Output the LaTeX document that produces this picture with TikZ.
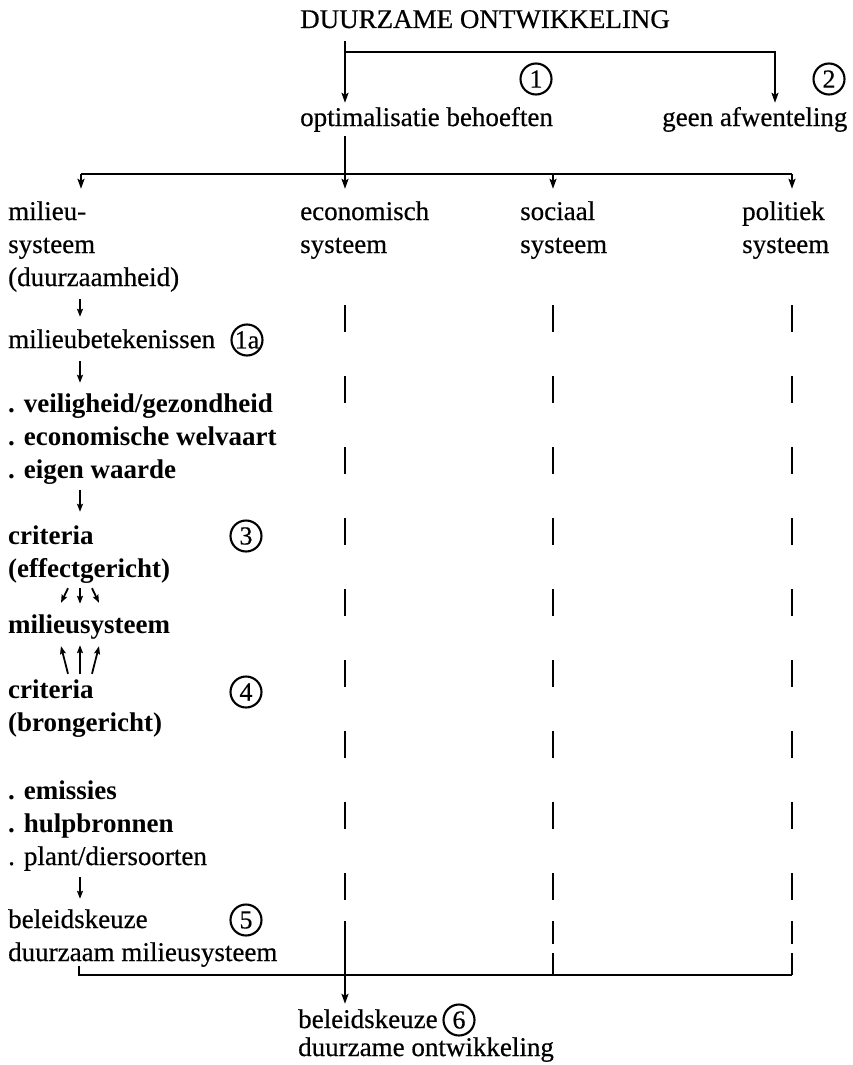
\documentclass[tikz,border=0pt]{standalone}
\usepackage{fontspec}
\setmainfont{Liberation Serif}
\newfontface\inkreg{Liberation Serif}[FakeBold=0.5]
\usetikzlibrary{arrows.meta,calc}
\begin{document}
\begin{tikzpicture}[x=1pt,y=-1pt,
  txt/.style={anchor=west,inner sep=0pt,font=\fontsize{27}{33}\inkreg,text height=19pt,text depth=7pt},
  btxt/.style={txt,font=\fontsize{27}{33}\selectfont\bfseries},
  num/.style={circle,draw,line width=2.1pt,inner sep=0pt,minimum size=31pt,font=\fontsize{26}{26}\inkreg},
  ln/.style={line width=2pt},
  arr/.style={ln,-{Stealth[length=10pt,width=7pt,inset=2pt]}},
  sarr/.style={line width=1.8pt,-{Stealth[length=8pt,width=6pt,inset=1.5pt]}},
  dsh/.style={line width=2.2pt,dash pattern=on 27pt off 44pt}]
\useasboundingbox (0,0) rectangle (852,1065);

% top
\node[txt] (title) at (300,22) {DUURZAME ONTWIKKELING};
\node[num] (n1) at (536,79) {1};
\node[num] (n2) at (829,79) {2};
\node[txt] (opt) at (300,120) {optimalisatie behoeften};
\node[txt] (geen) at (662,120) {geen afwenteling};

% column heads
\node[txt] (m1) at (8,214) {milieu-};
\node[txt] (m2) at (8,247) {systeem};
\node[txt] (m3) at (8,280) {(duurzaamheid)};
\node[txt] (e1) at (300,214) {economisch};
\node[txt] (e2) at (300,247) {systeem};
\node[txt] (s1) at (520,214) {sociaal};
\node[txt] (s2) at (520,247) {systeem};
\node[txt] (p1) at (742,214) {politiek};
\node[txt] (p2) at (742,247) {systeem};

% left column
\node[txt] (mb) at (8,342) {milieubetekenissen};
\node[num] (n1a) at (247,340) {1a};
\node[btxt] (v1) at (8,406) {. veiligheid/gezondheid};
\node[btxt] (v2) at (8,439) {. economische welvaart};
\node[btxt] (v3) at (8,472) {. eigen waarde};
\node[btxt] (c1) at (8,538) {criteria};
\node[num] (n3) at (246,536) {3};
\node[btxt] (c2) at (8,571) {(effectgericht)};
\node[btxt] (ms) at (8,627) {milieusysteem};
\node[btxt] (b1) at (8,692) {criteria};
\node[num] (n4) at (246,692) {4};
\node[btxt] (b2) at (8,725) {(brongericht)};
\node[btxt] (em) at (8,793) {. emissies};
\node[btxt] (hb) at (8,826) {. hulpbronnen};
\node[txt] (pd) at (8,859) {. plant/diersoorten};
\node[txt] (bk) at (8,922) {beleidskeuze};
\node[num] (n5) at (246,920) {5};
\node[txt] (dm) at (8,955) {duurzaam milieusysteem};

% bottom
\node[txt] (bk2) at (298,1022) {beleidskeuze};
\node[num] (n6) at (459,1020) {6};
\node[txt] (do) at (298,1050) {duurzame ontwikkeling};

% coordinates
\coordinate (xA) at (80,0);
\coordinate (xE) at (345,0);
\coordinate (xS) at (553,0);
\coordinate (xP) at (792,0);
\coordinate (xG) at (775,0);
\coordinate (br) at (345,52);
\coordinate (hL) at (81,174);
\coordinate (hE) at (345,174);
\coordinate (hS) at (553,174);
\coordinate (hP) at (792,174);
\coordinate (tk) at (79,966);
\coordinate (bS) at (553,975);
\coordinate (bP) at (792,975);
\coordinate (eX) at (345,900);
\coordinate (eY) at (345,921);
\coordinate (sX) at (553,900);
\coordinate (sY) at (553,921);
\coordinate (sW) at (553,944);
\coordinate (sZ) at (553,953);
\coordinate (pX) at (792,900);
\coordinate (pY) at (792,921);
\coordinate (pW) at (792,944);
\coordinate (pZ) at (792,953);

% top connectors
\draw[arr,shorten <=6pt,shorten >=4pt] (title.south -| xE) -- (opt.north -| xE);
\draw[arr,shorten >=4pt] (br) -| (geen.north -| xG);
\draw[ln,shorten <=3pt] (opt.south -| xE) -- (hE);
\draw[ln] (hL) -- (hP);
\foreach \c/\n in {hL/m1,hE/e1,hS/s1,hP/p1}
  \draw[arr,shorten >=12pt] (\c) -- (\n.north -| \c);

% left column arrows
\draw[sarr,shorten <=6pt,shorten >=12pt] (m3.south -| xA) -- (mb.north -| xA);
\draw[sarr,shorten <=6pt,shorten >=10pt] (mb.south -| xA) -- (v1.north -| xA);
\draw[sarr,shorten <=5pt,shorten >=13pt] (v3.south -| xA) -- (c1.north -| xA);
\draw[sarr] ($(c2.south -| xA)+(-12,4)$) -- ($(ms.north -| xA)+(-19,-11)$);
\draw[sarr] ($(c2.south -| xA)+(0,4)$) -- ($(ms.north -| xA)+(0,-10)$);
\draw[sarr] ($(c2.south -| xA)+(12,4)$) -- ($(ms.north -| xA)+(19,-11)$);
\draw[sarr] ($(b1.north -| xA)+(-12,-5)$) -- ($(ms.south -| xA)+(-19,6)$);
\draw[sarr] ($(b1.north -| xA)+(0,-5)$) -- ($(ms.south -| xA)+(0,5)$);
\draw[sarr] ($(b1.north -| xA)+(12,-5)$) -- ($(ms.south -| xA)+(19,6)$);
\draw[sarr,shorten <=5pt,shorten >=10pt] (pd.south -| xA) -- (bk.north -| xA);

% dashed columns
\draw[dsh,shorten <=45pt] (e2.south -| xE) -- (eX);
\draw[arr,shorten >=5pt] (eY) -- (bk2.north -| xE);
\draw[dsh,shorten <=45pt] (s2.south -| xS) -- (sX);
\draw[ln] (sY) -- (sW);
\draw[ln] (sZ) -- (bS);
\draw[dsh,shorten <=45pt] (p2.south -| xP) -- (pX);
\draw[ln] (pY) -- (pW);
\draw[ln] (pZ) -- (bP);

% bottom line
\draw[ln] (tk) |- (bP);
\end{tikzpicture}
\end{document}
